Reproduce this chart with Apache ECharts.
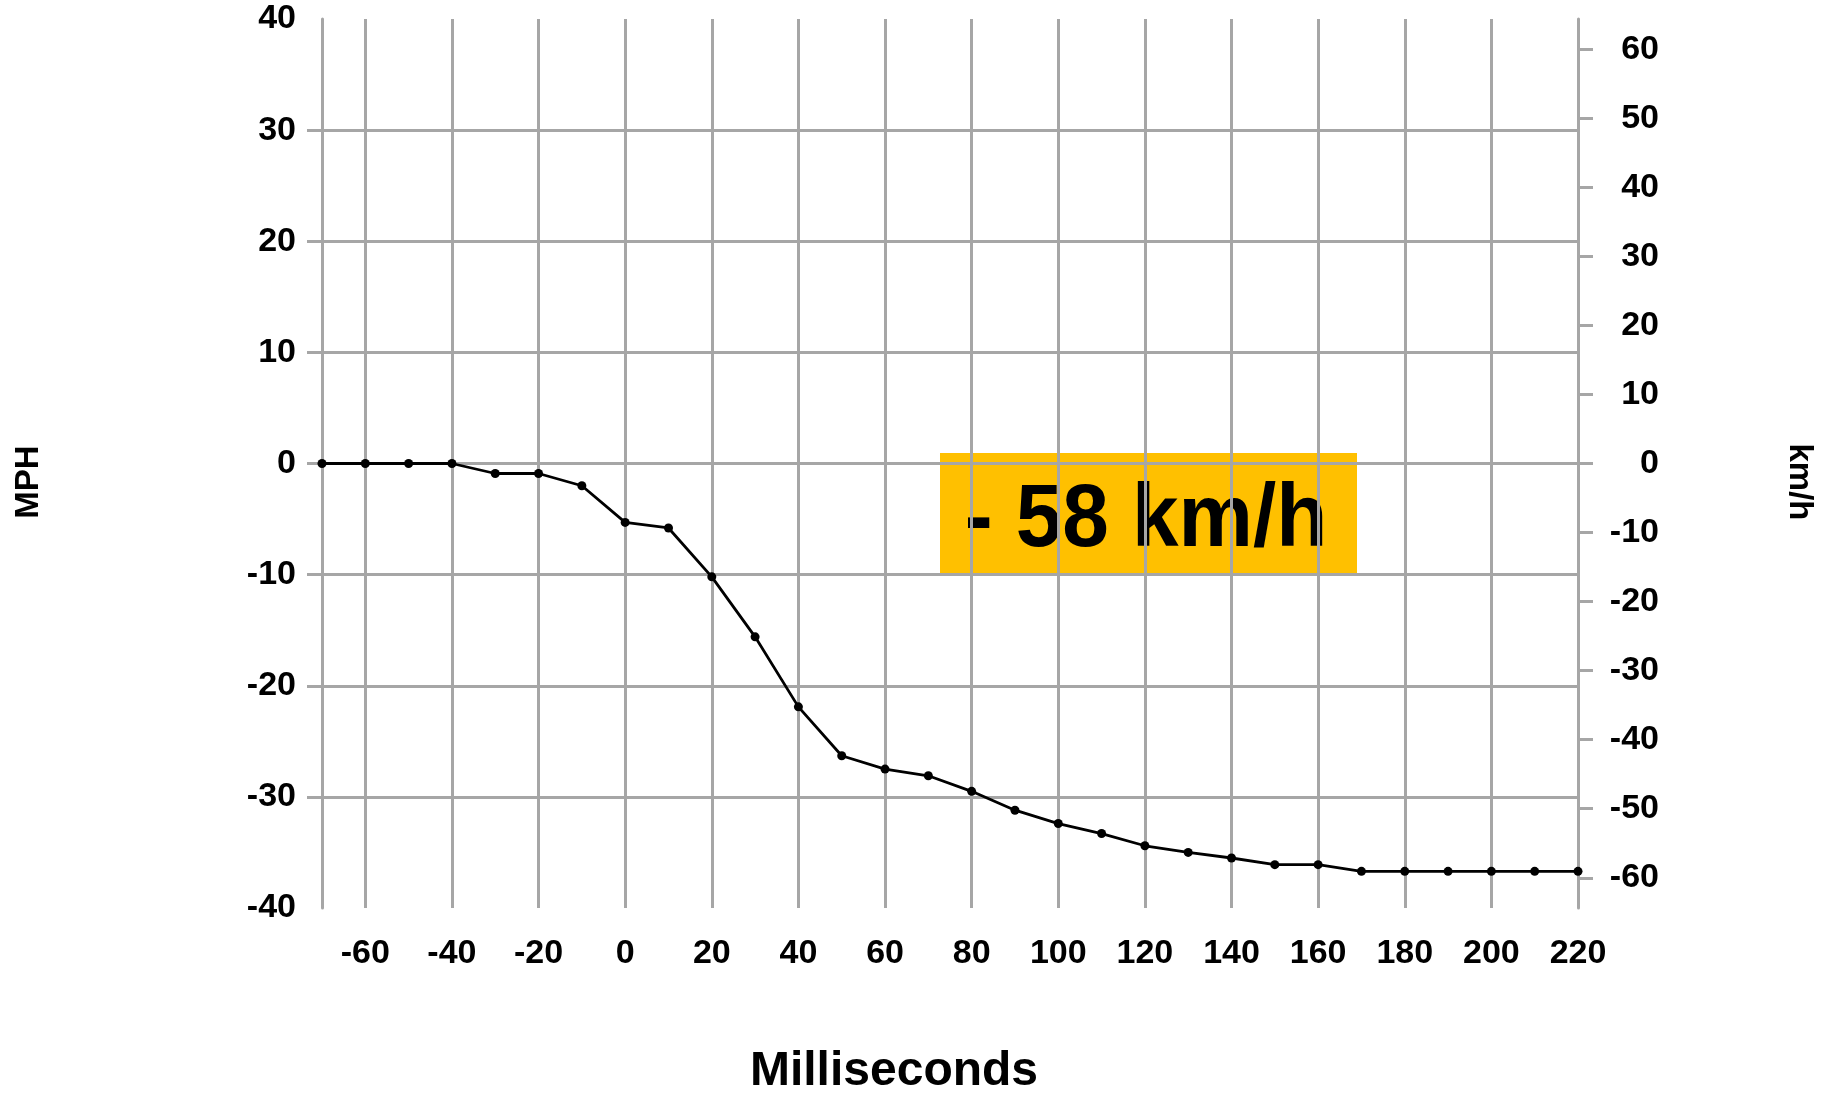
<!DOCTYPE html>
<html>
<head>
<meta charset="utf-8">
<script src="https://cdn.jsdelivr.net/npm/echarts@6/dist/echarts.min.js"></script>
<style>html,body{margin:0;padding:0;background:#fff;}#c{width:1825px;height:1094px;}</style>
</head>
<body>
<div id="c"></div>
<script>
const categories = ['-70','-60','-50','-40','-30','-20','-10','0','10','20','30','40','50','60','70','80','90','100','110','120','130','140','150','160','170','180','190','200','210','220'];
const speedMph = [0,0,0,0,-0.9,-0.9,-2.0,-5.3,-5.8,-10.2,-15.6,-21.9,-26.3,-27.5,-28.1,-29.5,-31.2,-32.4,-33.3,-34.4,-35.0,-35.5,-36.1,-36.1,-36.7,-36.7,-36.7,-36.7,-36.7,-36.7];
const mphTickValues = [-30,-20,-10,0,10,20,30];
const kmhTickValues = [-60,-50,-40,-30,-20,-10,0,10,20,30,40,50,60];
const MPH_MIN = -40, MPH_MAX = 40, KMH_PER_MPH = 1.609344;
const annotationText = '- 58 km/h';

const FONT = 'Liberation Sans';
const GRID_COLOR = '#a6a6a6';
const labelStyle = {color:'#000', fontFamily: FONT, fontWeight:'bold', fontSize:34};
const everyOther = (idx) => idx % 2 === 1;

const chart = echarts.init(document.getElementById('c'), null, {renderer:'canvas'});
chart.setOption({
  animation:false,
  backgroundColor:'#fff',
  grid:{left:322, right:247, top:19, bottom:186, containLabel:false, outerBoundsMode:'none'},
  xAxis:{
    type:'category', data:categories, boundaryGap:false,
    name:'Milliseconds', nameLocation:'middle', nameGap:140,
    nameTextStyle:{color:'#000', fontFamily:FONT, fontWeight:'bold', fontSize:48, padding:[0,112,0,0]},
    axisLine:{show:true, lineStyle:{color:GRID_COLOR, width:3}},
    axisTick:{show:true, interval:everyOther, length:13, lineStyle:{color:GRID_COLOR, width:3}},
    axisLabel:Object.assign({interval:everyOther, margin:29}, labelStyle),
    splitLine:{show:true, interval:everyOther, lineStyle:{color:GRID_COLOR, width:3}}
  },
  yAxis:[{
    type:'value', min:MPH_MIN, max:MPH_MAX, interval:10, position:'left',
    name:'MPH', nameLocation:'middle', nameGap:277,
    nameTextStyle:{color:'#000', fontFamily:FONT, fontWeight:'bold', fontSize:33, padding:[0,37,0,0]},
    axisLine:{show:true, lineStyle:{color:GRID_COLOR, width:3}},
    axisTick:{show:true, length:15, customValues:mphTickValues, lineStyle:{color:GRID_COLOR, width:3}},
    axisLabel:Object.assign({margin:26, padding:[12,0,0,0]}, labelStyle),
    splitLine:{show:true, lineStyle:{color:GRID_COLOR, width:3}}
  },{
    type:'value', min:MPH_MIN*KMH_PER_MPH, max:MPH_MAX*KMH_PER_MPH, position:'right',
    name:'km/h', nameLocation:'middle', nameGap:205, nameRotate:-90,
    nameTextStyle:{color:'#000', fontFamily:FONT, fontWeight:'bold', fontSize:33, padding:[0,0,0,37]},
    axisLine:{show:true, lineStyle:{color:GRID_COLOR, width:3}},
    axisTick:{show:true, length:15, customValues:kmhTickValues, lineStyle:{color:GRID_COLOR, width:3}},
    axisLabel:Object.assign({margin:81, align:'right', padding:[10,0,0,0], customValues:kmhTickValues}, labelStyle),
    splitLine:{show:false}
  }],
  series:[{
    type:'line', yAxisIndex:0, data:speedMph,
    symbol:'circle', symbolSize:9, showSymbol:true,
    lineStyle:{color:'#000', width:2.8},
    itemStyle:{color:'#000'},
    z:5
  }],
  graphic:[{
    type:'group', z:100,
    children:[{
      type:'rect', left:940, top:453, shape:{width:417, height:123},
      style:{fill:'#FFC000'}
    },{
      type:'text', x:1146, y:521, scaleX:0.94,
      style:{text:annotationText, fill:'#000', font:'bold 89px "Liberation Sans"', textAlign:'center', textVerticalAlign:'middle'}
    }]
  }]
});
</script>
</body>
</html>
